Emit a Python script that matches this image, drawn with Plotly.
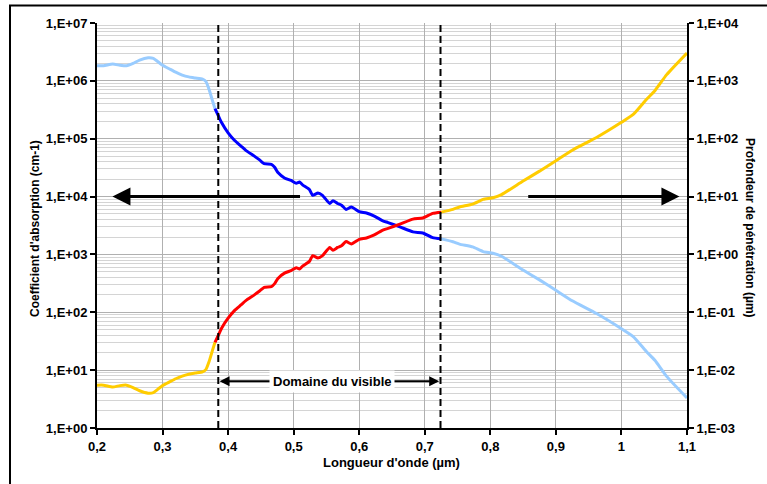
import plotly.graph_objects as go

# ---------------- data ----------------
wavelength_um = [
    0.200, 0.210, 0.224, 0.235, 0.245, 0.255, 0.265, 0.278, 0.286, 0.293,
    0.300, 0.310, 0.320, 0.330, 0.340, 0.350, 0.361, 0.366, 0.371, 0.376,
    0.380, 0.385, 0.390, 0.400, 0.410, 0.420, 0.427, 0.440, 0.448, 0.455,
    0.466, 0.471, 0.476, 0.486, 0.496, 0.504, 0.509, 0.514, 0.524, 0.529,
    0.537, 0.544, 0.555, 0.560, 0.567, 0.573, 0.580, 0.588, 0.600, 0.611,
    0.623, 0.636, 0.644, 0.662, 0.682, 0.697, 0.712, 0.725, 0.743, 0.753,
    0.773, 0.789, 0.804, 0.817, 0.850, 0.875, 0.900, 0.925, 0.962, 1.000,
    1.018, 1.038, 1.051, 1.069, 1.100,
]
absorption_cm = [
    1.82e6, 1.82e6, 1.95e6, 1.86e6, 1.82e6, 2.00e6, 2.29e6, 2.51e6, 2.45e6, 2.14e6,
    1.86e6, 1.62e6, 1.41e6, 1.26e6, 1.17e6, 1.12e6, 1.07e6, 9.8e5, 7.1e5, 4.6e5,
    3.3e5, 2.5e5, 1.9e5, 1.26e5, 9.3e4, 7.4e4, 6.3e4, 5.0e4, 4.3e4, 3.7e4,
    3.6e4, 3.2e4, 2.6e4, 2.1e4, 1.9e4, 1.7e4, 1.78e4, 1.58e4, 1.32e4, 1.05e4,
    1.15e4, 1.05e4, 7.6e3, 8.5e3, 7.6e3, 7.1e3, 6.0e3, 6.6e3, 5.5e3, 5.2e3,
    4.6e3, 3.8e3, 3.55e3, 3.0e3, 2.45e3, 2.35e3, 1.95e3, 1.86e3, 1.66e3, 1.51e3,
    1.35e3, 1.12e3, 1.05e3, 930, 537, 363, 240, 158, 95, 52,
    38, 21, 14.8, 7.8, 3.3,
]
depth_um = [
    0.0055, 0.0055, 0.0051, 0.0054, 0.0055, 0.0050, 0.0044, 0.0040, 0.0041, 0.0047,
    0.0054, 0.0062, 0.0071, 0.0079, 0.0085, 0.0089, 0.0093, 0.0102, 0.0141, 0.0217,
    0.0303, 0.040, 0.053, 0.079, 0.108, 0.135, 0.159, 0.200, 0.233, 0.270,
    0.278, 0.313, 0.385, 0.476, 0.526, 0.588, 0.562, 0.633, 0.758, 0.952,
    0.870, 0.952, 1.32, 1.18, 1.32, 1.41, 1.67, 1.52, 1.82, 1.92,
    2.17, 2.63, 2.82, 3.33, 4.08, 4.26, 5.13, 5.38, 6.02, 6.62,
    7.41, 8.93, 9.52, 10.8, 18.6, 27.5, 41.7, 63.3, 105, 192,
    263, 476, 676, 1282, 3030,
]

VIS_MIN, VIS_MAX = 0.380, 0.725          # colour change of the curves
VIS_LINES = [0.385, 0.724]                # dashed limits of the visible range

left_tickvals = [1, 10, 100, 1e3, 1e4, 1e5, 1e6, 1e7]
left_ticktext = ["1,E+00", "1,E+01", "1,E+02", "1,E+03", "1,E+04", "1,E+05", "1,E+06", "1,E+07"]
right_tickvals = [1e-3, 1e-2, 1e-1, 1, 10, 100, 1e3, 1e4]
right_ticktext = ["1,E-03", "1,E-02", "1,E-01", "1,E+00", "1,E+01", "1,E+02", "1,E+03", "1,E+04"]
x_tickvals = [0.2, 0.3, 0.4, 0.5, 0.6, 0.7, 0.8, 0.9, 1.0, 1.1]
x_ticktext = ["0,2", "0,3", "0,4", "0,5", "0,6", "0,7", "0,8", "0,9", "1", "1,1"]

# ---------------- styling ----------------
FONT = "Liberation Sans, Arial, sans-serif"
LIGHT_BLUE, DARK_BLUE = "#99CCFF", "#0000FF"
YELLOW, RED = "#FFCC00", "#FF0000"
MAJOR_GRID, MINOR_GRID = "#b0b0b0", "#d4d4d4"

W, H = 767, 484
ML, MR, MT, MB = 97, 80, 23, 56
PW, PH = W - ML - MR, H - MT - MB


def px_x(p):
    return (p - ML) / PW


def px_y(p):
    return (H - MB - p) / PH


def split(xs, ys):
    before = [(x, y) for x, y in zip(xs, ys) if x <= VIS_MIN]
    inside = [(x, y) for x, y in zip(xs, ys) if VIS_MIN <= x <= VIS_MAX]
    after = [(x, y) for x, y in zip(xs, ys) if x >= VIS_MAX]
    return before, inside, after


fig = go.Figure()

a_before, a_inside, a_after = split(wavelength_um, absorption_cm)
d_before, d_inside, d_after = split(wavelength_um, depth_um)

for seg, col in ((a_before, LIGHT_BLUE), (a_after, LIGHT_BLUE), (a_inside, DARK_BLUE)):
    fig.add_trace(go.Scatter(x=[p[0] for p in seg], y=[p[1] for p in seg], mode="lines",
                             line=dict(color=col, width=3, shape="spline", smoothing=0.5),
                             yaxis="y", showlegend=False))
for seg, col in ((d_before, YELLOW), (d_after, YELLOW), (d_inside, RED)):
    fig.add_trace(go.Scatter(x=[p[0] for p in seg], y=[p[1] for p in seg], mode="lines",
                             line=dict(color=col, width=3, shape="spline", smoothing=0.5),
                             yaxis="y2", showlegend=False))

tickfont = dict(family=FONT, size=13, color="black", weight="bold")

fig.update_layout(
    width=W, height=H,
    margin=dict(l=ML, r=MR, t=MT, b=MB),
    paper_bgcolor="white", plot_bgcolor="white",
    font=dict(family=FONT, size=13, color="black", weight="bold"),
    xaxis=dict(range=[0.2, 1.1], tickvals=x_tickvals, ticktext=x_ticktext,
               showgrid=True, gridcolor=MAJOR_GRID, gridwidth=1,
               showline=True, linecolor="black", linewidth=2,
               ticks="outside", ticklen=5, tickwidth=2, tickcolor="black",
               tickfont=tickfont, zeroline=False),
    yaxis=dict(type="log", range=[0, 7], tickvals=left_tickvals, ticktext=left_ticktext,
               showgrid=True, gridcolor=MAJOR_GRID, gridwidth=1,
               minor=dict(dtick="D1", showgrid=True, gridcolor=MINOR_GRID, gridwidth=1, ticks=""),
               showline=True, linecolor="black", linewidth=2,
               ticks="outside", ticklen=5, tickwidth=2, tickcolor="black",
               tickfont=tickfont, zeroline=False),
    yaxis2=dict(type="log", range=[-3, 4], overlaying="y", side="right",
                tickvals=right_tickvals, ticktext=right_ticktext, showgrid=False,
                showline=True, linecolor="black", linewidth=2,
                ticks="outside", ticklen=5, tickwidth=2, tickcolor="black",
                tickfont=tickfont, zeroline=False),
)

# dashed limits of the visible range
for xv in VIS_LINES:
    fig.add_shape(type="line", xref="x", yref="paper", x0=xv, x1=xv, y0=0, y1=1,
                  line=dict(color="black", width=2, dash="7px,4px"))

# outer frame
fig.add_shape(type="rect", xref="paper", yref="paper",
              x0=px_x(10), x1=px_x(820), y0=px_y(520), y1=px_y(5.5),
              line=dict(color="black", width=2), fillcolor="rgba(0,0,0,0)", layer="above")

# big arrows pointing to the axes
fig.add_annotation(x=0.2235, y=4, ax=0.512, ay=4, xref="x", yref="y", axref="x", ayref="y",
                   text="", showarrow=True, arrowhead=2, arrowsize=1.2, arrowwidth=3,
                   arrowcolor="black")
fig.add_annotation(x=1.0885, y=4, ax=0.8555, ay=4, xref="x", yref="y", axref="x", ayref="y",
                   text="", showarrow=True, arrowhead=2, arrowsize=1.2, arrowwidth=3,
                   arrowcolor="black")

# "Domaine du visible" double arrow
VIS_Y = 0.81
fig.add_annotation(x=0.387, y=VIS_Y, ax=0.56, ay=VIS_Y, xref="x", yref="y", axref="x", ayref="y",
                   text="", showarrow=True, arrowhead=2, arrowsize=1, arrowwidth=2,
                   arrowcolor="black")
fig.add_annotation(x=0.722, y=VIS_Y, ax=0.56, ay=VIS_Y, xref="x", yref="y", axref="x", ayref="y",
                   text="", showarrow=True, arrowhead=2, arrowsize=1, arrowwidth=2,
                   arrowcolor="black")
fig.add_annotation(x=0.558, y=VIS_Y, xref="x", yref="y", text="Domaine du visible",
                   showarrow=False, bgcolor="white", borderpad=3,
                   xanchor="center", yanchor="middle",
                   font=dict(family=FONT, size=13, color="black", weight="bold"))

# axis titles
fig.add_annotation(x=px_x(35), y=px_y(229), xref="paper", yref="paper",
                   xanchor="center", yanchor="middle",
                   text="Coefficient d'absorption (cm-1)", textangle=-90, showarrow=False,
                   font=dict(family=FONT, size=12, color="black", weight="bold"))
fig.add_annotation(x=px_x(750), y=px_y(228), xref="paper", yref="paper",
                   xanchor="center", yanchor="middle",
                   text="Profondeur de pénétration (µm)", textangle=90, showarrow=False,
                   font=dict(family=FONT, size=12, color="black", weight="bold"))
fig.add_annotation(x=px_x(391), y=px_y(462), xref="paper", yref="paper",
                   xanchor="center", yanchor="middle",
                   text="Longueur d'onde (µm)", showarrow=False,
                   font=dict(family=FONT, size=13, color="black", weight="bold"))

fig.write_html("out.html", config={"displayModeBar": False},
               post_script="document.body.style.margin='0';document.body.style.overflow='hidden';")
